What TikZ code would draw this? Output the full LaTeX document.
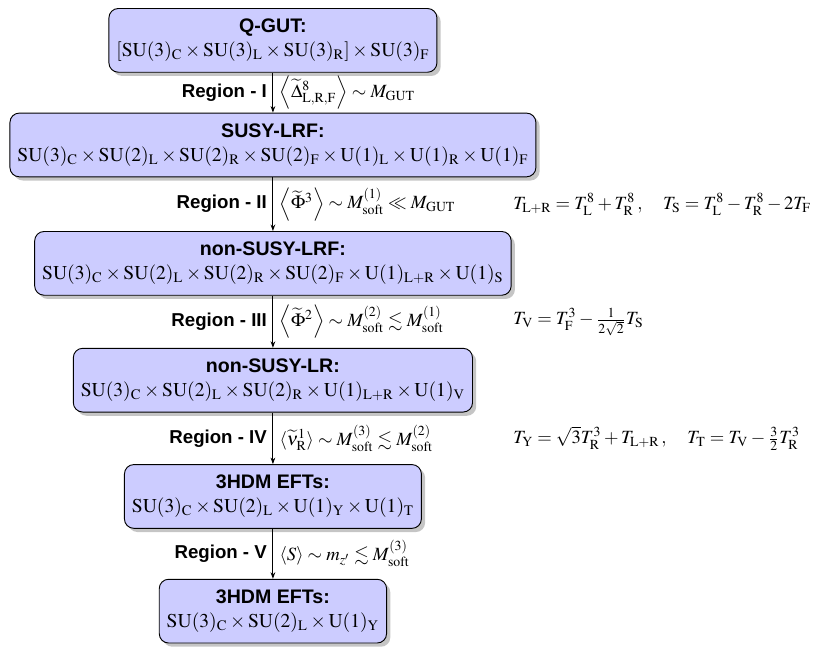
\documentclass[tikz,border=0pt]{standalone}
\usepackage{mathptmx}
\usepackage{amssymb}
\usepackage[no-math]{fontspec}
\newfontfamily\headfont{Liberation Sans}
\usetikzlibrary{shadows,arrows.meta}

\tikzset{
  groupbox/.style={draw=black, fill=blue!20, rounded corners=5pt, line width=0.5pt,
    minimum height=1.2cm, inner xsep=4pt, align=center,
    font=\fontsize{10.5}{12.8}\selectfont,
    drop shadow={shadow xshift=2pt, shadow yshift=-2pt, fill=black!45}},
  flowarrow/.style={-{Stealth[length=3.5pt,width=2.5pt]}, line width=0.5pt},
  regionlabel/.style={font=\headfont\bfseries, inner xsep=3pt},
  chargerule/.style={anchor=west, inner xsep=0pt},
}
\newcommand{\grp}[1]{\mathrm{#1}}

\begin{document}
\begin{tikzpicture}
                \useasboundingbox (0,0) rectangle (15.5,-12.2);
                \coordinate (eqcol) at (9.66,0);

                % Drawing the symmetry groups
                \node [groupbox] (qgut) at (5.14,-0.76)
                  {{\headfont\bfseries Q-GUT:}\\
                   $[\grp{SU}(3)_{\rm C}\times\grp{SU}(3)_{\rm L}\times\grp{SU}(3)_{\rm R}]\times\grp{SU}(3)_{\rm F}$};
                \node [groupbox] (susylrf) at (5.14,-2.73)
                  {{\headfont\bfseries SUSY-LRF:}\\
                   $\grp{SU}(3)_{\rm C}\times\grp{SU}(2)_{\rm L}\times\grp{SU}(2)_{\rm R}\times\grp{SU}(2)_{\rm F}\times\grp{U}(1)_{\rm L}\times\grp{U}(1)_{\rm R}\times\grp{U}(1)_{\rm F}$};
                \node [groupbox] (lrf) at (5.14,-4.96)
                  {{\headfont\bfseries non-SUSY-LRF:}\\
                   $\grp{SU}(3)_{\rm C}\times\grp{SU}(2)_{\rm L}\times\grp{SU}(2)_{\rm R}\times\grp{SU}(2)_{\rm F}\times\grp{U}(1)_{\rm L+R}\times\grp{U}(1)_{\rm S}$};
                \node [groupbox] (lr) at (5.14,-7.16)
                  {{\headfont\bfseries non-SUSY-LR:}\\
                   $\grp{SU}(3)_{\rm C}\times\grp{SU}(2)_{\rm L}\times\grp{SU}(2)_{\rm R}\times\grp{U}(1)_{\rm L+R}\times\grp{U}(1)_{\rm V}$};
                \node [groupbox] (eftT) at (5.14,-9.35)
                  {{\headfont\bfseries 3HDM EFTs:}\\
                   $\grp{SU}(3)_{\rm C}\times\grp{SU}(2)_{\rm L}\times\grp{U}(1)_{\rm Y}\times\grp{U}(1)_{\rm T}$};
                \node [groupbox] (eftY) at (5.14,-11.51)
                  {{\headfont\bfseries 3HDM EFTs:}\\
                   $\grp{SU}(3)_{\rm C}\times\grp{SU}(2)_{\rm L}\times\grp{U}(1)_{\rm Y}$};

                % Drawing the breaking steps
                \draw [flowarrow] (qgut) -- (susylrf)
                  node [midway, left, regionlabel] (regI) {Region - I}
                  node [midway, right] (vevI) {$\left\langle\widetilde{\Delta}^8_{\rm L,R,F}\right\rangle\sim M_{\rm GUT}$};
                \draw [flowarrow] (susylrf) -- (lrf)
                  node [midway, left, regionlabel] (regII) {Region - II}
                  node [midway, right] (vevII) {$\left\langle\widetilde{\Phi}^3\right\rangle\sim M^{(1)}_{\rm soft}\ll M_{\rm GUT}$};
                \draw [flowarrow] (lrf) -- (lr)
                  node [midway, left, regionlabel] (regIII) {Region - III}
                  node [midway, right] (vevIII) {$\left\langle\widetilde{\Phi}^2\right\rangle\sim M^{(2)}_{\rm soft}\lesssim M^{(1)}_{\rm soft}$};
                \draw [flowarrow] (lr) -- (eftT)
                  node [midway, left, regionlabel] (regIV) {Region - IV}
                  node [midway, right] (vevIV) {$\langle\widetilde{\nu}^1_{\rm R}\rangle\sim M^{(3)}_{\rm soft}\lesssim M^{(2)}_{\rm soft}$};
                \draw [flowarrow] (eftT) -- (eftY)
                  node [midway, left, regionlabel] (regV) {Region - V}
                  node [midway, right] (vevV) {$\langle S\rangle\sim m_{z'}\lesssim M^{(3)}_{\rm soft}$};

                % Marking the charge relations
                \node [chargerule] (chII) at (regII.east -| eqcol)
                  {$T_{\rm L+R}=T^8_{\rm L}+T^8_{\rm R}\,,\quad T_{\rm S}=T^8_{\rm L}-T^8_{\rm R}-2T_{\rm F}$};
                \node [chargerule] (chIII) at (regIII.east -| eqcol)
                  {$T_{\rm V}=T^3_{\rm F}-\frac{1}{2\sqrt{2}}T_{\rm S}$};
                \node [chargerule] (chIV) at (regIV.east -| eqcol)
                  {$T_{\rm Y}=\sqrt{3}T^3_{\rm R}+T_{\rm L+R}\,,\quad T_{\rm T}=T_{\rm V}-\frac{3}{2}T^3_{\rm R}$};
\end{tikzpicture}
\end{document}
